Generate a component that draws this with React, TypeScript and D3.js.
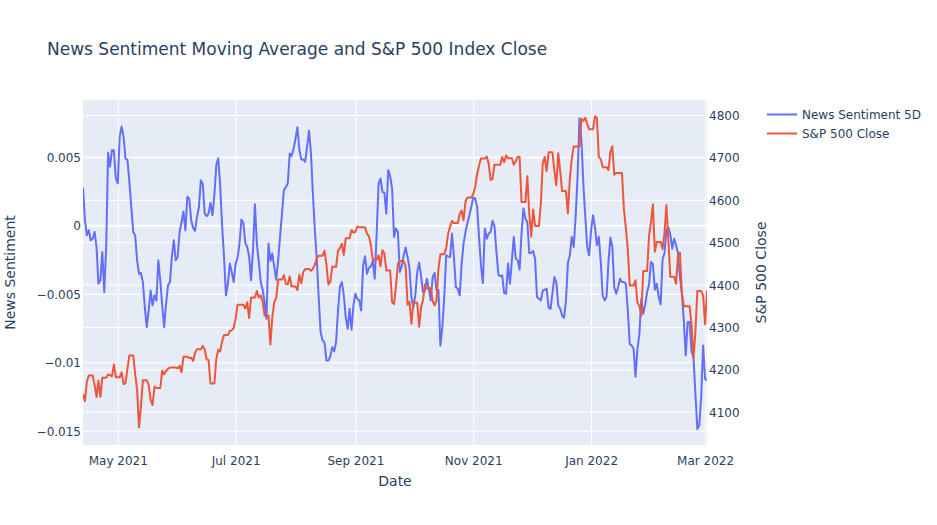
import React, { useEffect, useRef } from "react";
import * as d3 from "d3";

// daily series, first and last day shown on the chart
const startDate = "2021-04-13";
const endDate = "2022-03-02";

// News Sentiment 5D moving average (left axis), one value per day
const sentiment5d: number[] = [
  0.00276, 0.00037, -0.00073, -0.00037, -0.0011, -0.00098, -0.00049, -0.00159, -0.00427, -0.00402,
  -0.00195, -0.00488, -0.00159, 0.00529, 0.00427, 0.00549, 0.00544, 0.00341, 0.00305, 0.00646,
  0.0072, 0.00646, 0.00488, 0.00476, 0.00317, 0.00134, -0.00049, -0.00073, -0.00256, -0.00354,
  -0.00349, -0.00415, -0.00598, -0.00744, -0.00622, -0.00476, -0.00585, -0.00512, -0.00549, -0.00256,
  -0.00402, -0.00585, -0.00744, -0.00573, -0.00439, -0.00415, -0.00232, -0.0011, -0.00256, -0.00232,
  -0.00049, 0.00024, 0.00098, -0.00037, 0.00207, 0.00195, 0.00037, -0.0002, -0.00041, 0.00061,
  0.00129, 0.00329, 0.003, 0.00085, 0.00066, 0.00085, 0.00163, 0.00073, 0.0022, 0.00439,
  0.00488, 0.00293, 0, -0.00232, -0.00512, -0.00427, -0.0028, -0.00341, -0.00415, -0.0028,
  -0.00237, -0.00134, 0.00041, 0.00017, -0.00129, -0.00159, -0.00227, -0.00402, -0.00183, 0.00154,
  -0.00134, -0.00268, -0.00415, -0.00471, -0.00561, -0.00683, -0.00134, -0.00261, -0.00207, -0.00305,
  -0.00398, -0.00256, -0.00085, 0.00085, 0.00256, 0.00276, 0.00305, 0.00524, 0.00505, 0.00554,
  0.00634, 0.00715, 0.00549, 0.0048, 0.0048, 0.00463, 0.00573, 0.0069, 0.00524, 0.00232,
  -0.00037, -0.00244, -0.00524, -0.0078, -0.00841, -0.00854, -0.00988, -0.00988, -0.00958, -0.0089,
  -0.0092, -0.00854, -0.00622, -0.00446, -0.00415, -0.00512, -0.00671, -0.00756, -0.0061, -0.00763,
  -0.00585, -0.005, -0.00537, -0.00549, -0.00622, -0.00293, -0.00227, -0.00354, -0.0031, -0.003,
  -0.00261, -0.0039, -0.00061, 0.00305, 0.00341, 0.00244, 0.00237, 0.00085, 0.00402, 0.00359,
  0.00268, -0.00085, -0.00024, -0.00049, -0.00341, -0.003, -0.0022, -0.00163, -0.00232, -0.00317,
  -0.00524, -0.00602, -0.00512, -0.00341, -0.00273, -0.00373, -0.00488, -0.00476, -0.0039, -0.00463,
  -0.00549, -0.00378, -0.00349, -0.00476, -0.00471, -0.00878, -0.00744, -0.00524, -0.0022, -0.00227,
  -0.00232, -0.00061, -0.00232, -0.00451, -0.00463, -0.00512, -0.0028, -0.00134, -0.00049, 0.00017,
  0.00073, 0.00134, 0.00202, 0.00195, 0.00134, -0.00085, -0.00293, -0.00422, -0.00024, -0.00098,
  -0.00061, -0.00049, 0.00032, -0.00007, -0.00195, -0.00359, -0.00373, -0.00366, -0.00495, -0.005,
  -0.0028, -0.00427, -0.00256, -0.00085, -0.00244, -0.00256, -0.00324, -0.00061, 0.00122, 0.00049,
  0.00024, -0.00202, -0.00202, -0.00188, -0.00244, -0.00524, -0.00537, -0.00549, -0.00476, -0.00471,
  -0.00463, -0.00602, -0.0061, -0.00495, -0.00378, -0.00415, -0.00585, -0.0061, -0.00659, -0.00676,
  -0.00549, -0.00276, -0.0022, -0.00085, -0.00159, 0.00061, 0.00354, 0.0078, 0.00622, 0.00305,
  0.00061, -0.00159, -0.0022, -0.00037, 0.00073, -0.00012, -0.00146, -0.00085, -0.00268, -0.00512,
  -0.00549, -0.00524, -0.00268, -0.0009, -0.00159, -0.00451, -0.005, -0.00451, -0.0039, -0.00415,
  -0.00415, -0.00427, -0.00622, -0.00866, -0.00878, -0.00902, -0.01105, -0.00902, -0.00793, -0.00537,
  -0.00646, -0.00578, -0.00488, -0.00432, -0.00268, -0.00285, -0.00471, -0.00427, -0.00524, -0.00578,
  -0.00251, -0.00202, -0.00032, -0.00017, -0.00066, -0.00171, -0.00098, -0.00146, -0.00207, -0.00378,
  -0.005, -0.00695, -0.00951, -0.00707, -0.00707, -0.00927, -0.00963, -0.01232, -0.01488, -0.01463,
  -0.0125, -0.00878, -0.0112, -0.01134,
];

// S&P 500 close (right axis), weekends and holidays carry the last close
const spClose: number[] = [
  4141.6, 4124.7, 4170.4, 4185.5, 4185.5, 4185.5, 4163.3, 4134.9, 4173.4, 4135.0,
  4180.2, 4180.2, 4180.2, 4187.6, 4186.7, 4183.2, 4211.5, 4181.2, 4181.2, 4181.2,
  4192.7, 4164.7, 4167.6, 4201.6, 4232.6, 4232.6, 4232.6, 4188.4, 4152.1, 4063.0,
  4112.5, 4173.9, 4173.9, 4173.9, 4163.3, 4127.8, 4115.7, 4159.1, 4155.9, 4155.9,
  4155.9, 4197.1, 4188.1, 4196.0, 4200.9, 4204.1, 4204.1, 4204.1, 4204.1, 4202.0,
  4208.1, 4192.9, 4229.9, 4229.9, 4229.9, 4226.5, 4227.3, 4219.6, 4239.2, 4247.4,
  4247.4, 4247.4, 4255.2, 4246.6, 4223.7, 4221.9, 4166.5, 4166.5, 4166.5, 4224.8,
  4246.4, 4241.8, 4266.5, 4280.7, 4280.7, 4280.7, 4290.6, 4291.8, 4297.5, 4319.9,
  4352.3, 4352.3, 4352.3, 4352.3, 4343.5, 4358.1, 4320.8, 4369.6, 4369.6, 4369.6,
  4384.6, 4369.2, 4374.3, 4360.0, 4327.2, 4327.2, 4327.2, 4258.5, 4323.1, 4358.7,
  4367.5, 4411.8, 4411.8, 4411.8, 4422.3, 4401.5, 4400.6, 4419.2, 4395.3, 4395.3,
  4395.3, 4387.2, 4423.2, 4402.7, 4429.1, 4436.5, 4436.5, 4436.5, 4432.4, 4436.8,
  4447.7, 4460.8, 4468.0, 4468.0, 4468.0, 4479.7, 4448.1, 4400.3, 4405.8, 4441.7,
  4441.7, 4441.7, 4479.5, 4486.2, 4496.2, 4469.9, 4509.4, 4509.4, 4509.4, 4528.8,
  4522.7, 4524.1, 4537.0, 4535.4, 4535.4, 4535.4, 4535.4, 4520.0, 4514.1, 4493.3,
  4458.6, 4458.6, 4458.6, 4468.7, 4443.1, 4480.7, 4473.8, 4433.0, 4433.0, 4433.0,
  4358.0, 4354.2, 4395.6, 4449.0, 4455.5, 4455.5, 4455.5, 4443.1, 4352.6, 4359.5,
  4307.5, 4357.0, 4357.0, 4357.0, 4300.5, 4345.7, 4363.6, 4399.8, 4391.3, 4391.3,
  4391.3, 4361.2, 4350.7, 4363.8, 4438.3, 4471.4, 4471.4, 4471.4, 4486.5, 4519.6,
  4536.2, 4549.8, 4544.9, 4544.9, 4544.9, 4566.5, 4574.8, 4551.7, 4596.4, 4605.4,
  4605.4, 4605.4, 4613.7, 4630.7, 4660.6, 4680.1, 4697.5, 4697.5, 4697.5, 4701.7,
  4685.3, 4646.7, 4649.3, 4682.9, 4682.9, 4682.9, 4682.8, 4700.9, 4688.7, 4704.5,
  4698.0, 4698.0, 4698.0, 4682.9, 4690.7, 4701.5, 4701.5, 4594.6, 4594.6, 4594.6,
  4655.3, 4567.0, 4513.0, 4577.1, 4538.4, 4538.4, 4538.4, 4591.7, 4686.8, 4701.2,
  4667.5, 4712.0, 4712.0, 4712.0, 4669.0, 4634.1, 4709.9, 4668.7, 4620.6, 4620.6,
  4620.6, 4568.0, 4649.2, 4696.6, 4725.8, 4725.8, 4725.8, 4725.8, 4791.2, 4786.4,
  4793.1, 4778.7, 4766.2, 4766.2, 4766.2, 4796.6, 4793.5, 4700.6, 4696.1, 4677.0,
  4677.0, 4677.0, 4670.3, 4713.1, 4726.4, 4659.0, 4662.9, 4662.9, 4662.9, 4662.9,
  4577.1, 4532.8, 4482.7, 4397.9, 4397.9, 4397.9, 4410.1, 4356.5, 4349.9, 4326.5,
  4431.9, 4431.9, 4431.9, 4515.6, 4546.5, 4589.4, 4477.4, 4500.5, 4500.5, 4500.5,
  4483.9, 4521.5, 4587.2, 4504.1, 4418.6, 4418.6, 4418.6, 4401.7, 4471.1, 4475.0,
  4380.3, 4348.9, 4348.9, 4348.9, 4348.9, 4304.8, 4225.5, 4288.7, 4384.7, 4384.7,
  4384.7, 4373.9, 4306.3, 4386.5,
];

const sentimentTicks = [-0.015, -0.01, -0.005, 0, 0.005];
const spTicks = [4100, 4200, 4300, 4400, 4500, 4600, 4700, 4800];
const seriesNames = ["News Sentiment 5D", "S&P 500 Close"];
const seriesColors = ["#636efa", "#EF553B"];

const W = 937;
const H = 525;
const plot = { left: 83, right: 707, top: 100, bottom: 445 };
const fontFamily = '"DejaVu Sans", verdana, arial, sans-serif';
const textColor = "#2a3f5f";

const App: React.FC = () => {
  const svgRef = useRef<SVGSVGElement | null>(null);

  useEffect(() => {
    const svg = d3.select(svgRef.current);
    svg.selectAll("*").remove();

    const dates = d3.utcDay.range(
      new Date(startDate),
      d3.utcDay.offset(new Date(endDate), 1)
    );
    const n = Math.min(dates.length, sentiment5d.length, spClose.length);

    const plotW = plot.right - plot.left;
    const plotH = plot.bottom - plot.top;

    const x = d3
      .scaleUtc()
      .domain([dates[0], dates[n - 1]])
      .range([plot.left, plot.right]);
    const yLeft = d3
      .scaleLinear()
      .domain([-0.01604, 0.00914])
      .range([plot.bottom, plot.top]);
    const yRight = d3
      .scaleLinear()
      .domain([4021.4, 4835.4])
      .range([plot.bottom, plot.top]);

    // plot background
    svg
      .append("rect")
      .attr("x", plot.left)
      .attr("y", plot.top)
      .attr("width", plotW)
      .attr("height", plotH)
      .attr("fill", "#E5ECF6");

    const styleAxis = (g: d3.Selection<SVGGElement, unknown, null, undefined>) => {
      g.select(".domain").remove();
      g.selectAll(".tick line").attr("stroke", "#fff").attr("stroke-width", 1);
      g.selectAll(".tick text")
        .attr("fill", textColor)
        .style("font-size", "12px")
        .style("font-family", fontFamily);
      g.attr("font-family", null).attr("font-size", null);
    };

    const minus = (v: number) => d3.format("")(v).replace("-", "\u2212");

    // x grid + labels
    svg
      .append("g")
      .attr("transform", `translate(0,${plot.bottom})`)
      .call(
        d3
          .axisBottom(x)
          .ticks(d3.utcMonth.every(2))
          .tickFormat((d) => d3.utcFormat("%b %Y")(d as Date))
          .tickSize(-plotH)
          .tickPadding(11)
      )
      .call(styleAxis);

    // right axis grid + labels
    svg
      .append("g")
      .attr("transform", `translate(${plot.right},0)`)
      .call(
        d3
          .axisRight(yRight)
          .tickValues(spTicks)
          .tickFormat((d) => String(d))
          .tickSize(-plotW)
          .tickPadding(2)
      )
      .call(styleAxis)
      .selectAll(".tick text")
      .attr("dy", "0.38em");

    // left axis grid + labels
    const leftAxis = svg
      .append("g")
      .attr("transform", `translate(${plot.left},0)`)
      .call(
        d3
          .axisLeft(yLeft)
          .tickValues(sentimentTicks)
          .tickFormat((d) => minus(d as number))
          .tickSize(-plotW)
          .tickPadding(2)
      )
      .call(styleAxis);
    leftAxis.selectAll(".tick text").attr("dy", "0.38em");
    leftAxis
      .selectAll<SVGGElement, number>(".tick")
      .filter((d) => d === 0)
      .select("line")
      .attr("stroke-width", 2);

    // lines
    svg
      .append("clipPath")
      .attr("id", "plot-clip")
      .append("rect")
      .attr("x", plot.left)
      .attr("y", plot.top)
      .attr("width", plotW)
      .attr("height", plotH);

    const idx = d3.range(n);
    const sentimentLine = d3
      .line<number>()
      .x((i) => x(dates[i]))
      .y((i) => yLeft(sentiment5d[i]));
    const spLine = d3
      .line<number>()
      .x((i) => x(dates[i]))
      .y((i) => yRight(spClose[i]));

    const lines = svg.append("g").attr("clip-path", "url(#plot-clip)");
    lines
      .append("path")
      .attr("d", sentimentLine(idx))
      .attr("fill", "none")
      .attr("stroke", seriesColors[0])
      .attr("stroke-width", 2)
      .attr("stroke-linejoin", "round");
    lines
      .append("path")
      .attr("d", spLine(idx))
      .attr("fill", "none")
      .attr("stroke", seriesColors[1])
      .attr("stroke-width", 2)
      .attr("stroke-linejoin", "round");

    // title
    svg
      .append("text")
      .attr("x", 47)
      .attr("y", 55)
      .attr("fill", textColor)
      .style("font-family", fontFamily)
      .style("font-size", "17px")
      .text("News Sentiment Moving Average and S&P 500 Index Close");

    // axis titles
    svg
      .append("text")
      .attr("x", (plot.left + plot.right) / 2)
      .attr("y", 486)
      .attr("text-anchor", "middle")
      .attr("fill", textColor)
      .style("font-family", fontFamily)
      .style("font-size", "14px")
      .text("Date");
    svg
      .append("text")
      .attr("transform", `translate(15,${(plot.top + plot.bottom) / 2}) rotate(-90)`)
      .attr("text-anchor", "middle")
      .attr("fill", textColor)
      .style("font-family", fontFamily)
      .style("font-size", "14px")
      .text("News Sentiment");
    svg
      .append("text")
      .attr("transform", `translate(766,${(plot.top + plot.bottom) / 2}) rotate(-90)`)
      .attr("text-anchor", "middle")
      .attr("fill", textColor)
      .style("font-family", fontFamily)
      .style("font-size", "14px")
      .text("S&P 500 Close");

    // legend
    const legend = svg.append("g").attr("transform", "translate(767,114.5)");
    const item = legend
      .selectAll("g")
      .data(seriesNames)
      .enter()
      .append("g")
      .attr("transform", (_, i) => `translate(0,${i * 19})`);
    item
      .append("line")
      .attr("x1", 0)
      .attr("x2", 30)
      .attr("stroke", (_, i) => seriesColors[i])
      .attr("stroke-width", 2);
    item
      .append("text")
      .attr("x", 35)
      .attr("dy", "0.35em")
      .attr("fill", textColor)
      .style("font-family", fontFamily)
      .style("font-size", "12px")
      .text((d) => d);
  }, []);

  return (
    <svg
      ref={svgRef}
      width={W}
      height={H}
      style={{ position: "absolute", left: 0, top: 0, background: "#fff" }}
    />
  );
};

export default App;
